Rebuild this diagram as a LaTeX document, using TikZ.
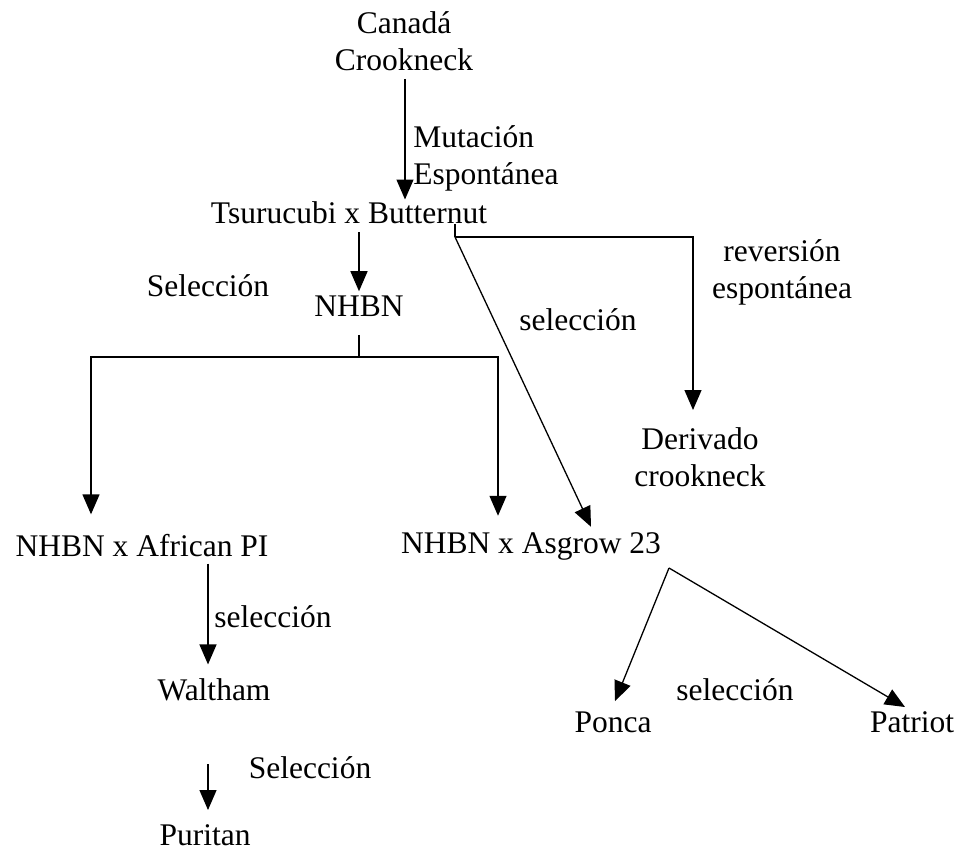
\documentclass[tikz,border=0pt]{standalone}
\usepackage{fontspec}
\setmainfont{Liberation Serif}
\usetikzlibrary{arrows.meta,positioning,calc}

\begin{document}
\begin{tikzpicture}[
      x=0.5pt,y=-0.5pt,
      every node/.style={font=\fontsize{15.75}{18.5}\selectfont,inner sep=0pt,align=center},
      arrow/.style={-{Triangle[length=10pt,width=8.5pt]},line width=0.65pt},
      link/.style={line width=0.65pt},
      note/.style={align=left}
    ]
      \useasboundingbox (0,0) rectangle (975,854);

      \node (canada) at (404,41) {Canadá\\Crookneck};
      \node (tsuru) at (349,213) {Tsurucubi x Butternut};
      \node (nhbn) at (359,306) {NHBN};
      \node (derivado) at (700,457) {Derivado\\crookneck};
      \node (african) at (142,546) {NHBN x African PI};
      \node (asgrow) at (531,546) {NHBN x Asgrow 23};
      \node (waltham) at (214,690) {Waltham};
      \node (puritan) at (205,835) {Puritan};
      \node (ponca) at (613,722) {Ponca};
      \node (patriot) at (912,722) {Patriot};

      % etiquetas
      \node[note,anchor=west] (mut) at (413,158) {Mutación\\Espontánea};
      \node (sel1) at (208,286) {Selección};
      \node (sel2) at (578,320) {selección};
      \node (rev) at (782,272) {reversión\\espontánea};
      \node[anchor=west] (sel3) at (214,617) {selección};
      \node (sel4) at (310,768) {Selección};
      \node (sel5) at (735,690) {selección};

      \coordinate (fork) at (455,237);
      \coordinate (split) at (359,357);
      \coordinate (split2) at (669,568);

      \draw[arrow] ($(canada.south)+(1,8)$) -- ($(canada.south |- tsuru.north)+(1,-2)$);
      \draw[arrow] ($(tsuru.south -| nhbn.north)+(0,8)$) -- ($(nhbn.north)+(0,-4)$);
      \draw[link] ($(nhbn.south)+(0,18)$) -- (split);
      \draw[arrow] (split) -| ($(african.north)+(-51,-20)$);
      \draw[arrow] (split) -| ($(asgrow.north)+(-33,-16)$);
      \draw[link] (tsuru.south -| fork) -- (fork);
      \draw[arrow] (fork) -| ($(derivado.north)+(-7,-17)$);
      \draw[arrow] (fork) -- ($(asgrow.north)+(60,-5)$);
      \draw[arrow] ($(african.south)+(66,6)$) -- ($(waltham.north)+(-6,-14)$);
      \draw[arrow] ($(puritan.north)+(3,-60)$) -- ($(puritan.north)+(3,-14)$);
      \draw[link] ($(asgrow.south)+(138,8)$) -- (split2);
      \draw[arrow] (split2) -- ($(ponca.north)+(2,-10)$);
      \draw[arrow] (split2) -- ($(patriot.north)+(-7,-4)$);
    \end{tikzpicture}
\end{document}
